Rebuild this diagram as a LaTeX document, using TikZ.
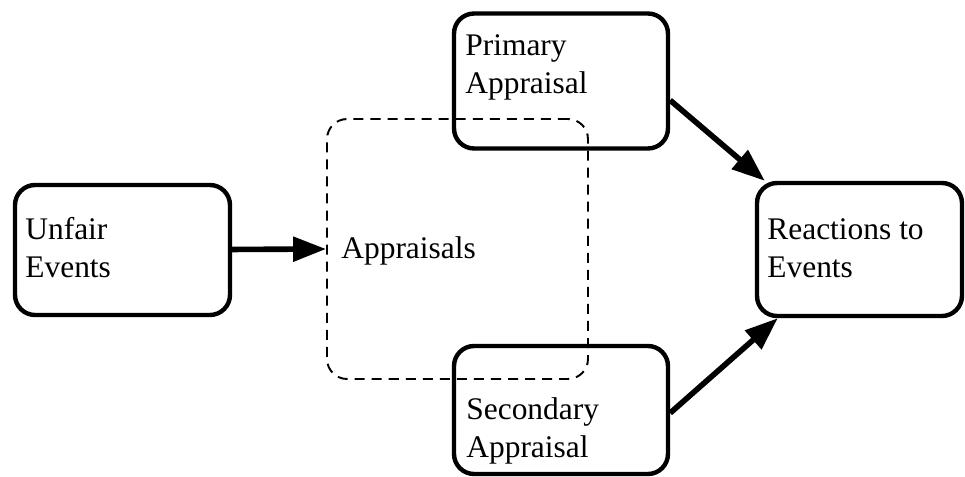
\documentclass[tikz,border=0pt]{standalone}
\usepackage{fontspec}
\setmainfont{Liberation Serif}
\usetikzlibrary{arrows.meta}

\begin{document}
\begin{tikzpicture}[x=0.02cm,y=-0.02cm,
        box/.style={draw,line width=2.5pt,rounded corners=0.4cm,inner sep=0pt},
        group/.style={draw,line width=1.1pt,dash pattern=on 5.7pt off 4pt,rounded corners=0.4cm,inner sep=0pt},
        lbl/.style={anchor=base west,align=left,inner sep=0pt,font=\fontsize{17.9}{21.6}\selectfont},
        link/.style={line width=3.2pt,-{Triangle[length=0.66cm,width=0.48cm]}}]
        \useasboundingbox (0,0) rectangle (965,477);
        \node[box,minimum width=4.3cm,minimum height=2.6cm] (unfair) at (122.5,250) {};
        \node[box,minimum width=4.28cm,minimum height=2.7cm] (primary) at (561,81) {};
        \node[box,minimum width=4.28cm,minimum height=2.56cm] (secondary) at (561,410) {};
        \node[box,minimum width=4.1cm,minimum height=2.66cm] (reactions) at (859.5,249.5) {};
        \node[group,minimum width=5.22cm,minimum height=5.2cm] (appraisals) at (457.5,249) {};
        % base anchor sits on the last line
        \node[lbl] (unfairtxt) at (25,277) {Unfair\\Events};
        \node[lbl] (primarytxt) at (465,93) {Primary\\Appraisal};
        \node[lbl] (appraisalstxt) at (341,258) {Appraisals};
        \node[lbl] (secondarytxt) at (466,457) {Secondary\\Appraisal};
        \node[lbl] (reactionstxt) at (767,277) {Reactions to\\Events};
        \draw[link] (unfair) -- (appraisals.west);
        \draw[link] (primary.-10.6) -- ([xshift=0.2cm]reactions.north west);
        \draw[link] ([yshift=-0.06cm]secondary.east) -- ([xshift=0.46cm]reactions.south west);
\end{tikzpicture}
\end{document}
